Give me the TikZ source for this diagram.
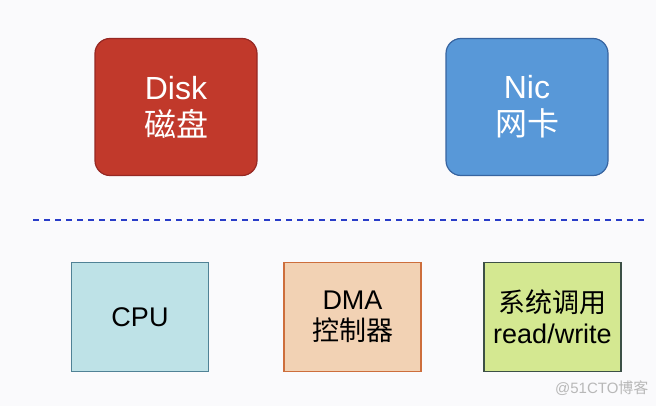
\documentclass[tikz,border=0pt]{standalone}
\usepackage{fontspec}
\setmainfont{Liberation Sans}
\newfontfamily\cjk{Noto Sans CJK SC}
\definecolor{bgpage}{RGB}{250,250,252}
\definecolor{diskfill}{RGB}{193,57,43}
\definecolor{diskline}{RGB}{150,40,35}
\definecolor{nicfill}{RGB}{88,152,216}
\definecolor{nicline}{RGB}{55,100,160}
\definecolor{cpufill}{RGB}{190,226,231}
\definecolor{cpuline}{RGB}{80,130,150}
\definecolor{dmafill}{RGB}{242,210,180}
\definecolor{dmaline}{RGB}{205,110,60}
\definecolor{sysfill}{RGB}{212,232,145}
\definecolor{sysline}{RGB}{60,80,70}
\definecolor{splitblue}{RGB}{40,60,200}
\tikzset{
  devbox/.style={rounded corners=15pt, line width=1.2pt, minimum width=162pt, minimum height=137pt,
    align=center, text=white, font=\fontsize{32}{37}\selectfont},
  softbox/.style={line width=1.2pt, minimum width=137pt, minimum height=109pt,
    align=center, text=black, font=\fontsize{27}{31}\selectfont},
}
\begin{document}
\begin{tikzpicture}[x=1pt,y=-1pt]

  \fill[bgpage] (0,0) rectangle (656,406);
  \useasboundingbox (0,0) rectangle (656,406);

  % hardware
  \node[devbox, fill=diskfill, draw=diskline] (disk) at (176,107) {Disk\\{\cjk 磁盘}};
  \node[devbox, fill=nicfill, draw=nicline] (nic) at (527,107) {Nic\\{\cjk 网卡}};

  % split line
  \draw[splitblue, line width=1.8pt, dash pattern=on 6pt off 5pt] (33,220)--(645,220);

  % cpu, dma, syscall
  \node[softbox, fill=cpufill, draw=cpuline] (cpu) at (140,317) {CPU};
  \node[softbox, fill=dmafill, draw=dmaline] (dma) at (352.5,317) {DMA\\{\cjk 控制器}};
  \node[softbox, fill=sysfill, draw=sysline] (syscall) at (552.5,317) {{\cjk 系统调用}\\read/write};

  \node[text=black!28, font=\fontsize{15}{18}\selectfont, anchor=east] (mark) at (652,388) {@51CTO{\cjk 博客}};

\end{tikzpicture}
\end{document}
